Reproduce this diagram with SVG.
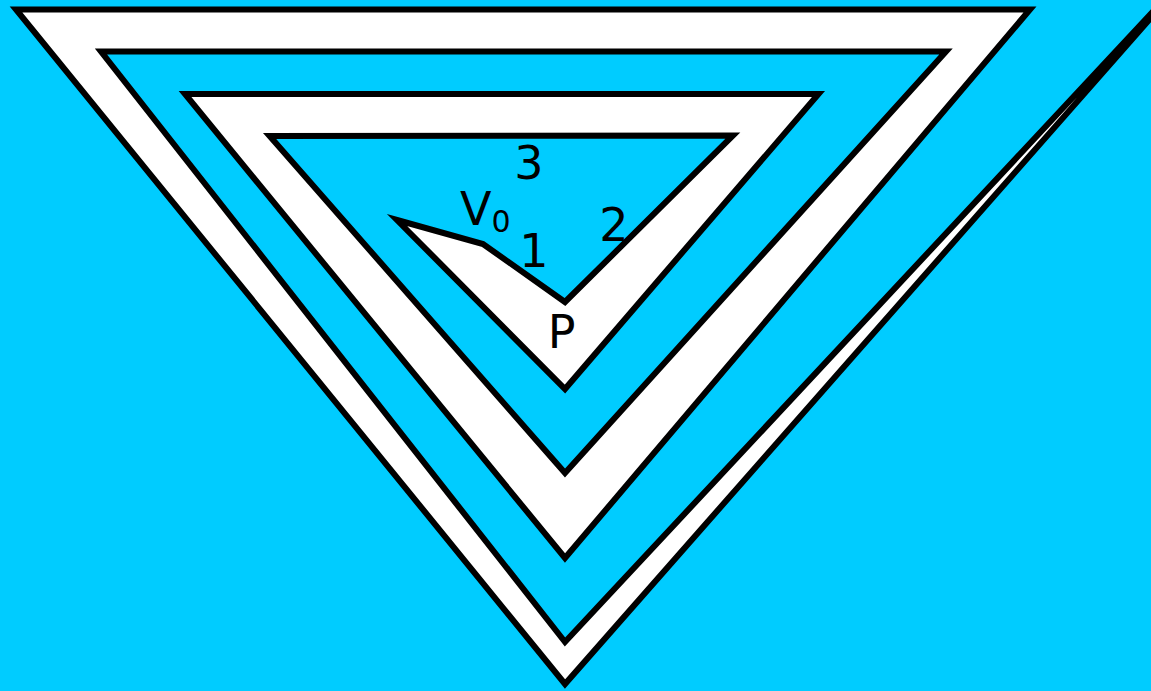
<svg xmlns="http://www.w3.org/2000/svg" width="1151" height="691" viewBox="0 0 1151 691">
  <style>
    .bg { fill: #00CCFF; }
    .spiral { fill: #FFFFFF; stroke: #000000; stroke-width: 6; stroke-linejoin: miter; stroke-miterlimit: 10; }
    .lbl { font-family: "DejaVu Sans", "Liberation Sans", sans-serif; font-size: 46px; fill: #000000; }
  </style>
  <rect class="bg" x="0" y="0" width="1151" height="691"/>
  <g id="spiral">
    <polygon class="spiral" points="397,220 483,244 565,302 733,135.5 269.6,136 565,473 946,51.5 101,51.5 565,642 1215,-55 565,684 16,9.5 1030,9.5 565,558 185,94 818.5,94 565,389"/>
  </g>
  <g id="labels">
    <text class="lbl" x="529" y="179" text-anchor="middle">3</text>
    <text class="lbl" x="460" y="225">V<tspan font-size="30" dy="7">0</tspan></text>
    <text class="lbl" x="534" y="267" text-anchor="middle">1</text>
    <text class="lbl" x="614" y="241" text-anchor="middle">2</text>
    <text class="lbl" x="561.5" y="348" text-anchor="middle">P</text>
  </g>
</svg>
